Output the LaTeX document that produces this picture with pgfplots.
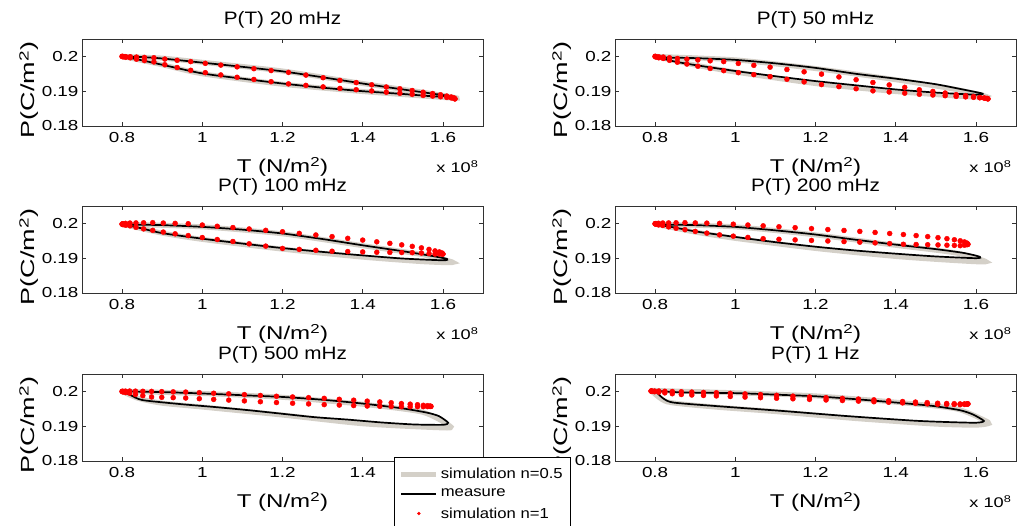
\documentclass[border=0pt]{standalone}
\usepackage{fontspec}
\setmainfont{Liberation Sans}[FakeStretch=1.15]
\newfontfamily\stretchfont{Liberation Sans}[FakeStretch=1.3]
\newfontfamily\ylfont{Liberation Sans}[FakeStretch=1.42]
\usepackage{pgfplots}
\pgfplotsset{compat=1.18}
\usepackage{pgfplotstable}
\definecolor{simgray}{RGB}{212,208,200}
\definecolor{axgray}{RGB}{50,50,50}

% red markers (simulation n=1): T (x 1e8), upper branch U, lower branch L
\pgfplotstableread{
T U L
0.8000 0.20000 0.20000
0.8023 0.19997 0.19987
0.8091 0.19993 0.19973
0.8203 0.19990 0.19960
0.8359 0.19980 0.19920
0.8556 0.19970 0.19880
0.8793 0.19960 0.19840
0.9066 0.19923 0.19760
0.9373 0.19887 0.19680
0.9711 0.19850 0.19600
1.0075 0.19800 0.19533
1.0462 0.19750 0.19467
1.0868 0.19700 0.19400
1.1287 0.19647 0.19337
1.1716 0.19593 0.19273
1.2150 0.19540 0.19210
1.2584 0.19463 0.19167
1.3013 0.19387 0.19123
1.3432 0.19310 0.19080
1.3838 0.19247 0.19043
1.4225 0.19183 0.19007
1.4589 0.19120 0.18970
1.4927 0.19070 0.18940
1.5234 0.19020 0.18910
1.5507 0.18970 0.18880
1.5744 0.18933 0.18860
1.5941 0.18897 0.18840
1.6097 0.18860 0.18820
1.6209 0.18833 0.18807
1.6277 0.18807 0.18793
1.6300 0.18780 0.18780
}\rA
\pgfplotstableread{
T U L
0.8000 0.20000 0.20000
0.8023 0.19993 0.19980
0.8091 0.19987 0.19960
0.8203 0.19980 0.19940
0.8359 0.19960 0.19887
0.8556 0.19940 0.19833
0.8793 0.19920 0.19780
0.9066 0.19897 0.19717
0.9373 0.19873 0.19653
0.9711 0.19850 0.19590
1.0075 0.19797 0.19533
1.0462 0.19743 0.19477
1.0868 0.19690 0.19420
1.1287 0.19623 0.19343
1.1716 0.19557 0.19267
1.2150 0.19490 0.19190
1.2584 0.19410 0.19130
1.3013 0.19330 0.19070
1.3432 0.19250 0.19010
1.3838 0.19180 0.18977
1.4225 0.19110 0.18943
1.4589 0.19040 0.18910
1.4927 0.18993 0.18890
1.5234 0.18947 0.18870
1.5507 0.18900 0.18850
1.5744 0.18873 0.18837
1.5941 0.18847 0.18823
1.6097 0.18820 0.18810
1.6209 0.18807 0.18800
1.6277 0.18793 0.18790
1.6300 0.18780 0.18780
}\rB
\pgfplotstableread{
T U L
0.8000 0.19980 0.19980
0.8022 0.19990 0.19963
0.8087 0.20000 0.19947
0.8196 0.20010 0.19930
0.8346 0.20013 0.19887
0.8536 0.20017 0.19843
0.8764 0.20020 0.19800
0.9027 0.20010 0.19750
0.9323 0.20000 0.19700
0.9649 0.19990 0.19650
1.0000 0.19953 0.19593
1.0373 0.19917 0.19537
1.0764 0.19880 0.19480
1.1168 0.19840 0.19413
1.1582 0.19800 0.19347
1.2000 0.19760 0.19280
1.2418 0.19713 0.19253
1.2832 0.19667 0.19227
1.3236 0.19620 0.19200
1.3627 0.19570 0.19190
1.4000 0.19520 0.19180
1.4351 0.19470 0.19170
1.4677 0.19427 0.19167
1.4973 0.19383 0.19163
1.5236 0.19340 0.19160
1.5464 0.19297 0.19147
1.5654 0.19253 0.19133
1.5804 0.19210 0.19120
1.5913 0.19180 0.19120
1.5978 0.19150 0.19120
1.6000 0.19120 0.19120
}\rC
\pgfplotstableread{
T U L
0.8000 0.19990 0.19990
0.8021 0.19997 0.19973
0.8085 0.20003 0.19957
0.8191 0.20010 0.19940
0.8337 0.20013 0.19900
0.8523 0.20017 0.19860
0.8745 0.20020 0.19820
0.9002 0.20013 0.19770
0.9290 0.20007 0.19720
0.9608 0.20000 0.19670
0.9950 0.19977 0.19633
1.0314 0.19953 0.19597
1.0695 0.19930 0.19560
1.1089 0.19903 0.19543
1.1492 0.19877 0.19527
1.1900 0.19850 0.19510
1.2308 0.19823 0.19493
1.2711 0.19797 0.19477
1.3105 0.19770 0.19460
1.3486 0.19740 0.19440
1.3850 0.19710 0.19420
1.4192 0.19680 0.19400
1.4510 0.19650 0.19393
1.4798 0.19620 0.19387
1.5055 0.19590 0.19380
1.5278 0.19560 0.19373
1.5463 0.19530 0.19367
1.5609 0.19500 0.19360
1.5715 0.19467 0.19373
1.5779 0.19433 0.19387
1.5800 0.19400 0.19400
}\rD
\pgfplotstableread{
T U L
0.8000 0.20000 0.20000
0.8021 0.20003 0.19983
0.8084 0.20007 0.19967
0.8188 0.20010 0.19950
0.8333 0.20007 0.19913
0.8516 0.20003 0.19877
0.8735 0.20000 0.19840
0.8989 0.19993 0.19830
0.9274 0.19987 0.19820
0.9587 0.19980 0.19810
0.9925 0.19963 0.19790
1.0284 0.19947 0.19770
1.0660 0.19930 0.19750
1.1050 0.19907 0.19727
1.1448 0.19883 0.19703
1.1850 0.19860 0.19680
1.2252 0.19840 0.19660
1.2651 0.19820 0.19640
1.3040 0.19800 0.19620
1.3416 0.19773 0.19607
1.3775 0.19747 0.19593
1.4113 0.19720 0.19580
1.4426 0.19697 0.19573
1.4711 0.19673 0.19567
1.4965 0.19650 0.19560
1.5184 0.19633 0.19560
1.5367 0.19617 0.19560
1.5512 0.19600 0.19560
1.5616 0.19590 0.19563
1.5679 0.19580 0.19567
1.5700 0.19570 0.19570
}\rE
\pgfplotstableread{
T U L
0.7900 0.20010 0.20010
0.7922 0.20010 0.20000
0.7986 0.20010 0.19990
0.8093 0.20010 0.19980
0.8242 0.20003 0.19957
0.8429 0.19997 0.19933
0.8654 0.19990 0.19910
0.8915 0.19980 0.19897
0.9207 0.19970 0.19883
0.9528 0.19960 0.19870
0.9875 0.19943 0.19853
1.0243 0.19927 0.19837
1.0629 0.19910 0.19820
1.1029 0.19887 0.19803
1.1437 0.19863 0.19787
1.1850 0.19840 0.19770
1.2263 0.19820 0.19753
1.2671 0.19800 0.19737
1.3071 0.19780 0.19720
1.3457 0.19757 0.19703
1.3825 0.19733 0.19687
1.4172 0.19710 0.19670
1.4493 0.19693 0.19657
1.4785 0.19677 0.19643
1.5046 0.19660 0.19630
1.5271 0.19653 0.19627
1.5459 0.19647 0.19623
1.5607 0.19640 0.19620
1.5714 0.19640 0.19627
1.5778 0.19640 0.19633
1.5800 0.19640 0.19640
}\rF

\pgfplotsset{
  panel/.style={
    scale only axis, width=401pt, height=87pt,
    xmin=0.7, xmax=1.7, ymin=0.18, ymax=0.205,
    xtick={0.8,1,1.2,1.4,1.6}, ytick={0.18,0.19,0.2},
    scaled x ticks=false, scaled y ticks=false,
    tick align=inside, tick pos=both, major tick length=4pt,
    /pgf/number format/assume math mode=true,
    ticklabel style={font=\stretchfont\fontsize{14.5}{16}\selectfont},
    xticklabel style={yshift=-3pt},
    axis line style={axgray, line width=0.8pt},
    tick style={axgray, line width=0.8pt},
    xlabel={T (N/m\textsuperscript{2})},
    ylabel={P(C/m\textsuperscript{2})},
    every axis x label/.style={at={(axis description cs:0.5,0)}, anchor=base, yshift=-47pt, font=\stretchfont\fontsize{18.5}{20}\selectfont},
    every axis y label/.style={at={(axis description cs:-0.132,0.414)}, anchor=center, rotate=90, font=\ylfont\fontsize{19}{20}\selectfont},
    every axis title/.style={at={(axis description cs:0.5,1)}, anchor=base, yshift=14pt, font=\fontsize{18}{20}\selectfont},
    after end axis/.code={\node[anchor=base east, font=\stretchfont\fontsize{14}{15}\selectfont, xshift=-1pt, yshift=-47pt] at (rel axis cs:1,0) {x 10\textsuperscript{8}};},
  },
  gr/.style={simgray, line width=5pt, smooth, tension=0.4,
    legend image code/.code={\draw[##1] (0pt,0pt) -- (35pt,0pt);}},
  bk/.style={black, line width=1.7pt, smooth, tension=0.4,
    legend image code/.code={\draw[##1] (0pt,0pt) -- (35pt,0pt);}},
  rd/.style={red, only marks, mark=*, mark size=2.5pt, mark options={draw=red, fill=red},
    legend image code/.code={\draw[##1, mark size=1.5pt] plot coordinates {(17.5pt,0pt)}; \path (0pt,-3pt) (35pt,3pt);}},
}

\begin{document}
\begin{tikzpicture}
\useasboundingbox (0pt,0pt) rectangle (1021pt,526pt);

% 20 mHz
\begin{axis}[panel, at={(82pt,400pt)}, anchor=south west, title={P(T) 20 mHz}]
\addplot[gr] coordinates {(0.80,0.2000) (0.90,0.1995) (1.00,0.1983) (1.20,0.1958) (1.40,0.1922) (1.55,0.1897) (1.62,0.1884) (1.635,0.1880) (1.60,0.1882) (1.40,0.1899) (1.20,0.1920) (1.00,0.1950) (0.90,0.1976) (0.80,0.2000)};
\addplot[bk] coordinates {(0.80,0.2000) (0.85,0.1998) (0.90,0.1994) (1.00,0.1982) (1.10,0.1970) (1.20,0.1957) (1.30,0.1940) (1.40,0.1922) (1.50,0.1905) (1.58,0.1892) (1.61,0.1887) (1.58,0.1885) (1.50,0.1892) (1.40,0.1900) (1.30,0.1910) (1.20,0.1922) (1.10,0.1936) (1.00,0.1951) (0.90,0.1976) (0.84,0.1991) (0.80,0.2000)};
\addplot[rd] table[x=T,y=U]{\rA};
\addplot[rd] table[x=T,y=L]{\rA};
\end{axis}

% 50 mHz
\begin{axis}[panel, at={(615pt,400pt)}, anchor=south west, title={P(T) 50 mHz}]
\addplot[gr] coordinates {(0.80,0.2000) (1.00,0.1990) (1.20,0.1965) (1.40,0.1933) (1.55,0.1905) (1.625,0.1885) (1.58,0.1884) (1.40,0.1899) (1.20,0.1922) (1.00,0.1955) (0.90,0.1975) (0.80,0.2000)};
\addplot[bk] coordinates {(0.806,0.1997) (0.90,0.1995) (1.00,0.1990) (1.10,0.1980) (1.20,0.1967) (1.30,0.1950) (1.40,0.1936) (1.50,0.1920) (1.58,0.1902) (1.617,0.1893) (1.60,0.1890) (1.50,0.1896) (1.40,0.1905) (1.30,0.1917) (1.20,0.1929) (1.10,0.1943) (1.00,0.1958) (0.90,0.1975) (0.85,0.1985) (0.806,0.1997)};
\addplot[rd] table[x=T,y=U]{\rB};
\addplot[rd] table[x=T,y=L]{\rB};
\end{axis}

% 100 mHz
\begin{axis}[panel, at={(82pt,233pt)}, anchor=south west, title={P(T) 100 mHz}]
\addplot[gr] coordinates {(0.80,0.1998) (1.00,0.1990) (1.20,0.1970) (1.40,0.1936) (1.55,0.1910) (1.625,0.1888) (1.55,0.1890) (1.40,0.1903) (1.20,0.1926) (1.00,0.1954) (0.90,0.1972) (0.80,0.1998)};
\addplot[bk] coordinates {(0.80,0.1997) (0.90,0.1995) (1.00,0.1990) (1.10,0.1982) (1.20,0.1971) (1.30,0.1955) (1.40,0.1937) (1.50,0.1920) (1.57,0.1907) (1.61,0.1898) (1.60,0.1894) (1.50,0.1899) (1.40,0.1908) (1.30,0.1918) (1.20,0.1929) (1.10,0.1942) (1.00,0.1956) (0.90,0.1972) (0.84,0.1988) (0.80,0.1997)};
\addplot[rd] table[x=T,y=U]{\rC};
\addplot[rd] table[x=T,y=L]{\rC};
\end{axis}

% 200 mHz
\begin{axis}[panel, at={(615pt,233pt)}, anchor=south west, title={P(T) 200 mHz}]
\addplot[gr] coordinates {(0.80,0.1998) (1.00,0.1990) (1.20,0.1967) (1.40,0.1937) (1.55,0.1915) (1.625,0.1890) (1.55,0.1893) (1.40,0.1905) (1.20,0.1928) (1.00,0.1957) (0.90,0.1975) (0.80,0.1998)};
\addplot[bk] coordinates {(0.80,0.1997) (0.90,0.1995) (1.00,0.1990) (1.10,0.1980) (1.20,0.1968) (1.30,0.1953) (1.40,0.1939) (1.50,0.1926) (1.57,0.1915) (1.61,0.1904) (1.60,0.1900) (1.50,0.1905) (1.40,0.1913) (1.30,0.1922) (1.20,0.1933) (1.10,0.1946) (1.00,0.1961) (0.90,0.1977) (0.84,0.1990) (0.80,0.1997)};
\addplot[rd] table[x=T,y=U]{\rD};
\addplot[rd] table[x=T,y=L]{\rD};
\end{axis}

% 500 mHz
\begin{axis}[panel, at={(82pt,65pt)}, anchor=south west, title={P(T) 500 mHz}]
\addplot[gr] coordinates {(0.80,0.2000) (1.00,0.1994) (1.20,0.1983) (1.40,0.1963) (1.55,0.1940) (1.62,0.1898) (1.58,0.1896) (1.40,0.1907) (1.20,0.1932) (1.00,0.1955) (0.90,0.1966) (0.84,0.1980) (0.80,0.2000)};
\addplot[bk] coordinates {(0.80,0.2000) (0.90,0.1998) (1.00,0.1994) (1.10,0.1989) (1.20,0.1984) (1.30,0.1976) (1.40,0.1965) (1.50,0.1951) (1.56,0.1939) (1.59,0.1929) (1.613,0.1910) (1.60,0.1904) (1.527,0.1905) (1.444,0.1911) (1.362,0.1919) (1.279,0.1926) (1.197,0.1936) (1.115,0.1946) (1.032,0.1955) (0.95,0.1963) (0.851,0.1975) (0.82,0.1990) (0.80,0.2000)};
\addplot[rd] table[x=T,y=U]{\rE};
\addplot[rd] table[x=T,y=L]{\rE};
\end{axis}

% 1 Hz (holds the legend, drawn last)
\begin{axis}[panel, at={(615pt,65pt)}, anchor=south west, title={P(T) 1 Hz},
  legend style={at={(axis description cs:-0.552,0.046)}, anchor=north west,
    draw=black, fill=white, font=\fontsize{14.5}{16}\selectfont,
    inner xsep=5pt, inner ysep=9pt, row sep=5pt, cells={anchor=west}},
  legend cell align=left]
\addplot[gr] coordinates {(0.79,0.2003) (1.00,0.1996) (1.20,0.1987) (1.40,0.1969) (1.55,0.1950) (1.62,0.1918) (1.632,0.1908) (1.60,0.1903) (1.50,0.1906) (1.30,0.1922) (1.10,0.1942) (0.95,0.1955) (0.83,0.1970) (0.79,0.2003)};
\addlegendentry{simulation n=0.5}
\addplot[bk] coordinates {(0.80,0.2002) (0.868,0.1997) (1.00,0.1995) (1.115,0.1990) (1.20,0.1986) (1.296,0.1978) (1.40,0.1968) (1.494,0.1958) (1.56,0.1946) (1.592,0.1934) (1.62,0.1915) (1.60,0.1910) (1.527,0.1912) (1.444,0.1916) (1.279,0.1929) (1.115,0.1944) (0.95,0.1958) (0.845,0.1968) (0.82,0.1980) (0.80,0.2002)};
\addlegendentry{measure}
\addplot[rd] table[x=T,y=U]{\rF};
\addlegendentry{simulation n=1}
\addplot[rd, forget plot] table[x=T,y=L]{\rF};
\end{axis}
\end{tikzpicture}
\end{document}
